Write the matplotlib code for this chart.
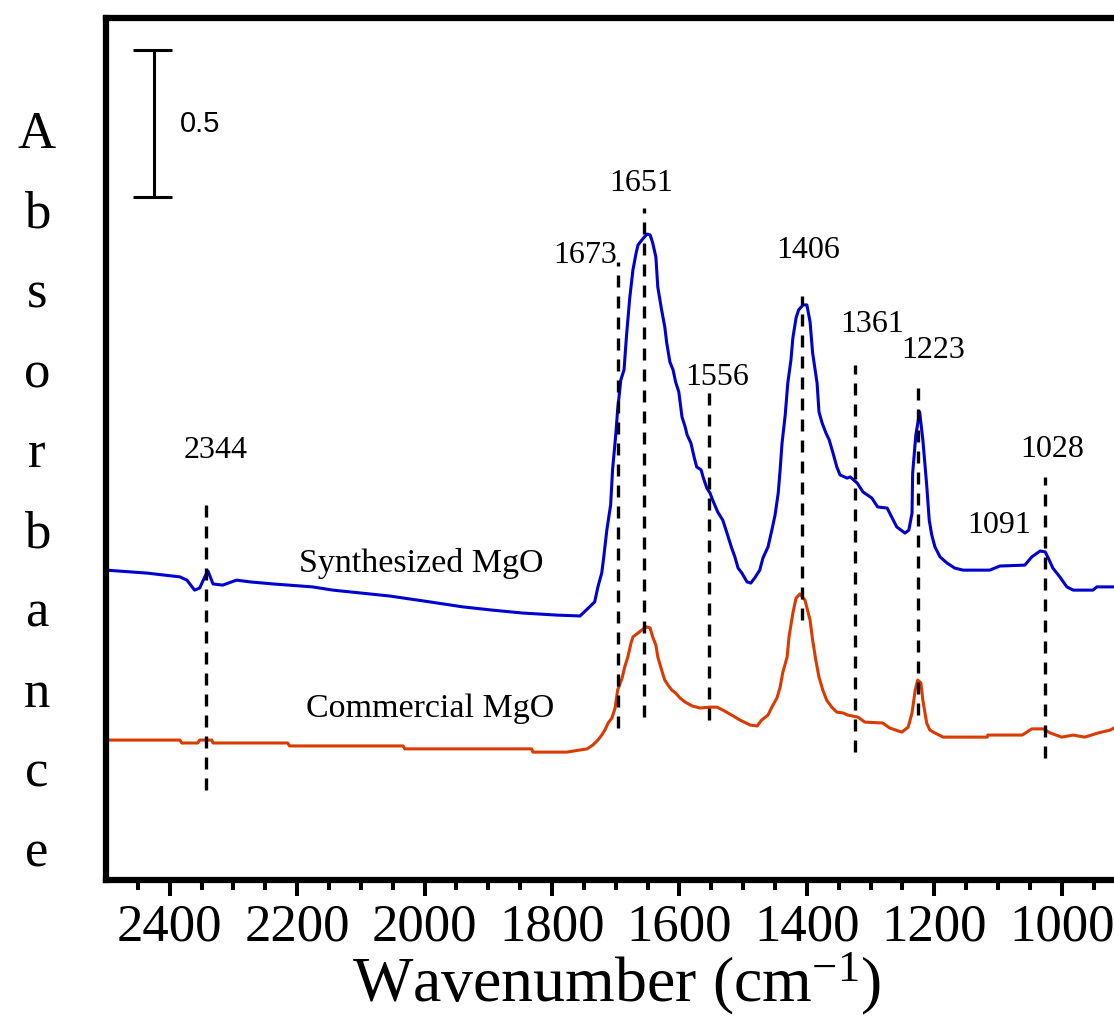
import numpy as np
import matplotlib
matplotlib.use('Agg')
import matplotlib.pyplot as plt

plt.rcParams['font.family'] = ['Liberation Serif', 'DejaVu Serif']
plt.rcParams['mathtext.fontset'] = 'custom'
plt.rcParams['mathtext.rm'] = 'Liberation Serif'
plt.rcParams['mathtext.it'] = 'Liberation Serif:italic'

# spectra (absorbance already offset for display)
synth_wn = [2500, 2436, 2384, 2373, 2361, 2353, 2345, 2340, 2332, 2317, 2295, 2274, 2238,
            2176, 2144, 2099, 2055, 2023, 1992, 1940, 1894, 1846, 1792, 1756, 1741, 1733,
            1728, 1722, 1719, 1714, 1708, 1705, 1700, 1697, 1692, 1687, 1683, 1678, 1673,
            1668, 1665, 1659, 1651, 1646, 1642, 1637, 1634, 1628, 1623, 1620, 1615, 1610,
            1606, 1601, 1596, 1591, 1588, 1582, 1577, 1573, 1566, 1563, 1557, 1552, 1548,
            1540, 1532, 1526, 1518, 1513, 1508, 1502, 1494, 1488, 1482, 1474, 1469, 1461,
            1455, 1450, 1445, 1442, 1439, 1434, 1430, 1425, 1422, 1417, 1413, 1406, 1400,
            1395, 1391, 1384, 1381, 1376, 1370, 1365, 1359, 1353, 1348, 1337, 1332, 1321,
            1312, 1298, 1289, 1274, 1267, 1259, 1246, 1240, 1235, 1234, 1229, 1223, 1218,
            1212, 1208, 1204, 1199, 1191, 1180, 1168, 1155, 1113, 1097, 1058, 1047, 1034,
            1026, 1022, 1014, 1003, 992, 982, 951, 945, 918]
synth_abs = [1.054, 1.044, 1.031, 1.020, 0.986, 0.993, 1.031, 1.051, 1.007, 1.003, 1.020, 1.014, 1.007,
             0.997, 0.986, 0.976, 0.966, 0.956, 0.946, 0.929, 0.918, 0.908, 0.901, 0.898, 0.929, 0.946,
             0.997, 1.044, 1.095, 1.190, 1.276, 1.395, 1.514, 1.599, 1.701, 1.735, 1.854, 1.980, 2.075,
             2.133, 2.160, 2.177, 2.197, 2.194, 2.167, 2.119, 2.017, 1.939, 1.881, 1.827, 1.762, 1.735,
             1.694, 1.660, 1.575, 1.541, 1.514, 1.486, 1.439, 1.405, 1.395, 1.371, 1.333, 1.316, 1.293,
             1.252, 1.224, 1.184, 1.129, 1.099, 1.061, 1.044, 1.014, 1.010, 1.027, 1.054, 1.095, 1.133,
             1.190, 1.241, 1.316, 1.395, 1.486, 1.582, 1.690, 1.769, 1.844, 1.912, 1.939, 1.956, 1.956,
             1.898, 1.793, 1.690, 1.592, 1.554, 1.520, 1.497, 1.452, 1.405, 1.378, 1.367, 1.371, 1.350,
             1.320, 1.299, 1.269, 1.265, 1.235, 1.201, 1.180, 1.190, 1.248, 1.384, 1.514, 1.592, 1.497,
             1.344, 1.224, 1.173, 1.133, 1.099, 1.078, 1.061, 1.054, 1.054, 1.068, 1.071, 1.099, 1.119,
             1.116, 1.099, 1.061, 1.031, 0.997, 0.986, 0.986, 0.997, 0.997]

comm_wn = [2500, 2384, 2381, 2356, 2353, 2334, 2332, 2215, 2212, 2034, 2031, 1832, 1830, 1777,
           1745, 1736, 1728, 1722, 1717, 1712, 1706, 1701, 1697, 1690, 1686, 1681, 1676, 1673,
           1665, 1657, 1651, 1646, 1642, 1637, 1634, 1628, 1623, 1618, 1612, 1606, 1599, 1591,
           1580, 1568, 1552, 1541, 1532, 1518, 1505, 1489, 1478, 1471, 1461, 1455, 1447, 1442,
           1438, 1431, 1428, 1422, 1417, 1411, 1403, 1395, 1391, 1386, 1381, 1375, 1369, 1361,
           1353, 1343, 1336, 1320, 1309, 1281, 1270, 1251, 1241, 1235, 1230, 1226, 1221, 1218,
           1212, 1207, 1199, 1186, 1117, 1116, 1062, 1047, 1029, 1018, 1000, 982, 964, 943, 924, 918]
comm_abs = [0.476, 0.476, 0.466, 0.466, 0.476, 0.476, 0.466, 0.466, 0.456, 0.456, 0.446, 0.446, 0.435, 0.435,
            0.446, 0.459, 0.476, 0.493, 0.510, 0.534, 0.551, 0.585, 0.646, 0.687, 0.724, 0.759, 0.806, 0.827,
            0.840, 0.854, 0.861, 0.857, 0.827, 0.799, 0.759, 0.714, 0.680, 0.663, 0.646, 0.636, 0.619, 0.605,
            0.592, 0.585, 0.588, 0.588, 0.578, 0.561, 0.544, 0.527, 0.524, 0.544, 0.561, 0.588, 0.619, 0.656,
            0.704, 0.759, 0.827, 0.908, 0.959, 0.973, 0.952, 0.884, 0.816, 0.748, 0.690, 0.646, 0.612, 0.588,
            0.571, 0.568, 0.561, 0.554, 0.537, 0.534, 0.517, 0.503, 0.520, 0.568, 0.646, 0.680, 0.670, 0.612,
            0.534, 0.510, 0.500, 0.486, 0.486, 0.493, 0.493, 0.514, 0.514, 0.500, 0.486, 0.493, 0.486, 0.500,
            0.510, 0.517]

# dashed marker lines
peak_wn = [2343, 1697, 1656, 1553, 1408, 1324, 1226, 1026]
peak_top = [1.276, 2.102, 2.286, 1.656, 1.986, 1.752, 1.673, 1.371]
peak_bottom = [0.306, 0.517, 0.554, 0.544, 0.884, 0.435, 0.561, 0.415]

# peak labels
label_text = ['2344', '1673', '1651', '1556', '1406', '1361', '1223', '1091', '1028']
label_wn = [2328, 1748, 1660, 1540, 1398, 1298, 1202, 1098, 1015]
label_abs = [1.435, 2.099, 2.344, 1.684, 2.116, 1.864, 1.776, 1.180, 1.439]

series_names = ['Synthesized MgO', 'Commercial MgO']
series_label_wn = [2006, 1992]
series_label_abs = [1.048, 0.554]

BLUE = '#0000D0'
RED = '#D93B00'

fig = plt.figure(figsize=(11.14, 10.17), dpi=100)
ax = fig.add_axes([106 / 1114, 137 / 1017, 1008 / 1114, 862 / 1017])

ax.plot(synth_wn, synth_abs, color=BLUE, lw=2.2)
ax.plot(comm_wn, comm_abs, color=RED, lw=2.2)

ax.vlines(peak_wn, peak_bottom, peak_top, colors='k', linestyles=(0, (3.6, 2.7)), lw=2.4)

for s, x, y in zip(label_text, label_wn, label_abs):
    ax.text(x, y, s, ha='center', va='baseline', fontsize=23)

for s, x, y in zip(series_names, series_label_wn, series_label_abs):
    ax.text(x, y, s, ha='center', va='baseline', fontsize=24.5)

# 0.5 absorbance scale bar
bar_x, bar_y0, bar_len = 2424, 2.323, 0.5
ax.vlines(bar_x, bar_y0, bar_y0 + bar_len, colors='k', lw=2.2)
ax.hlines([bar_y0, bar_y0 + bar_len], 2458, 2396, colors='k', lw=2.2)
ax.text(2384, bar_y0 + bar_len / 2, '0.5', ha='left', va='center', fontsize=21,
        family=['Liberation Sans', 'DejaVu Sans'])

ax.set_xlim(2500, 918)
ax.set_ylim(0, 2.932)
ax.set_xticks(np.arange(2400, 999, -200))
ax.set_xticks(np.arange(2450, 918, -50), minor=True)
ax.set_yticks([])
ax.tick_params(axis='x', which='major', direction='out', length=11.5, width=2.9,
               labelsize=38, pad=5.5)
ax.tick_params(axis='x', which='minor', direction='out', length=7.2, width=2.9)

ax.spines['right'].set_visible(False)
for side in ['left', 'top', 'bottom']:
    ax.spines[side].set_linewidth(4.5)

fig.text(37 / 1114, (1017 - 111) / 1017, '\n'.join('Absorbance'), ha='center', va='top',
         multialignment='center', fontsize=38, linespacing=1.86)
fig.text(617 / 1114, (1017 - 1001) / 1017, r'Wavenumber (cm$^{-1}$)', ha='center',
         va='baseline', fontsize=46)

fig.savefig('out.png', dpi=100)
